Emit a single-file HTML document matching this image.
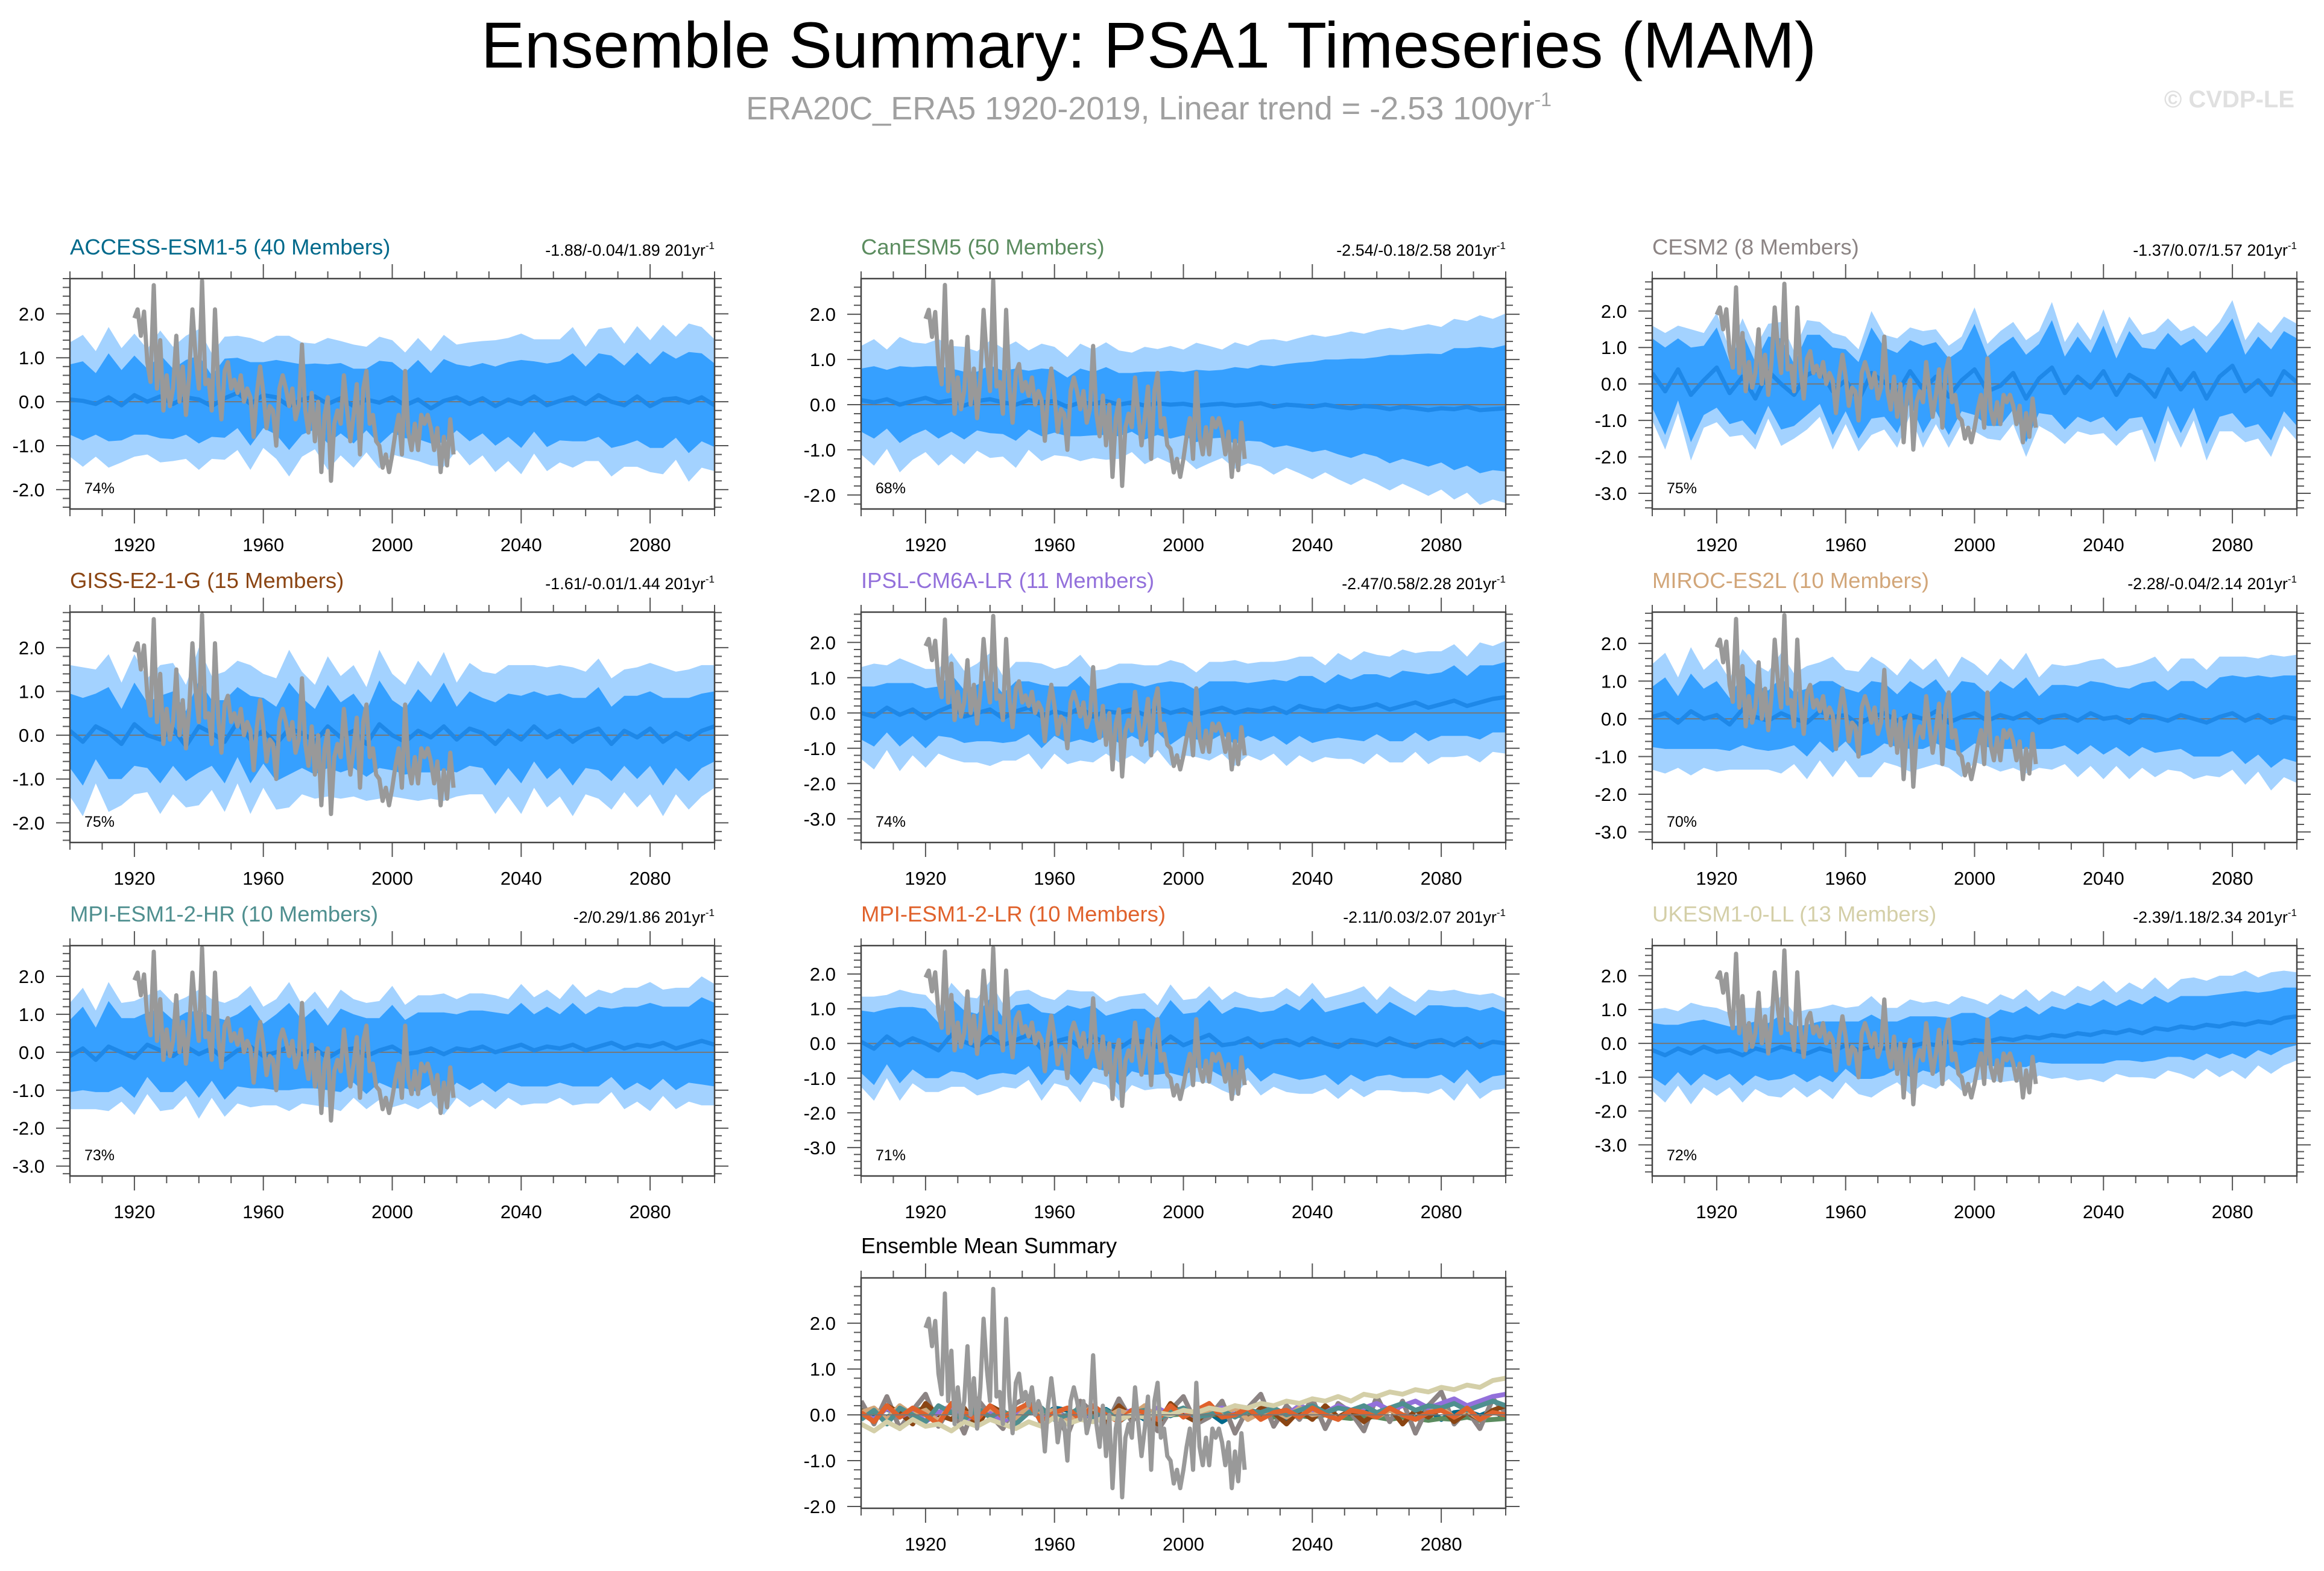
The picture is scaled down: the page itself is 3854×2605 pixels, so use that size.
<!DOCTYPE html>
<html><head><meta charset="utf-8"><style>
html,body{margin:0;padding:0;background:#fff;}
svg{display:block;font-family:"Liberation Sans",Arial,sans-serif;}
</style></head><body>
<svg id="chart" width="3854" height="2605" viewBox="0 0 3854 2605" xmlns="http://www.w3.org/2000/svg">
<rect x="0" y="0" width="3854" height="2605" fill="#fff"/>
<text x="1905" y="112" font-size="108" text-anchor="middle" fill="#000">Ensemble Summary: PSA1 Timeseries (MAM)</text>
<text x="1905" y="198" font-size="54" text-anchor="middle" fill="#a0a0a0">ERA20C_ERA5 1920-2019, Linear trend = -2.53 100yr<tspan font-size="32" dy="-22">-1</tspan></text>
<text x="3805" y="178" font-size="40" font-weight="bold" text-anchor="end" fill="#e0e0e0">© CVDP-LE</text>
<g id="panels"></g>
</svg>
<script>
const obsStart = 1920;
const obsValues = [
1.90,2.10,1.50,2.05,0.90,0.45,2.65,0.30,1.40,-0.20,
0.60,-0.10,0.30,1.50,0.00,0.80,-0.30,0.60,2.10,1.00,
0.30,2.75,0.40,0.50,-0.20,2.10,0.40,-0.40,0.70,0.90,
0.30,0.50,0.20,0.60,0.00,0.30,0.10,-0.80,0.20,0.80,
0.20,-0.60,-0.10,-0.20,-1.00,0.30,0.60,0.30,-0.10,0.30,
-0.40,-0.10,1.30,-0.20,-0.70,0.20,-0.90,0.00,-1.60,-0.30,
0.10,-1.80,-0.50,-0.20,-0.50,0.60,-0.20,-0.90,-0.30,0.40,
-1.20,0.30,0.70,-0.50,-0.30,-0.90,-1.00,-1.50,-1.20,-1.60,
-1.20,-0.70,-0.30,-1.20,0.70,-0.70,-1.10,-0.50,-1.10,-0.30,
-0.50,-0.30,-0.60,-1.10,-0.60,-1.60,-0.80,-1.45,-0.40,-1.20];
const modelStart = 1900;
const modelStep = 4;
const modelNames = ["ACCESS-ESM1-5 (40 Members)","CanESM5 (50 Members)","CESM2 (8 Members)","GISS-E2-1-G (15 Members)","IPSL-CM6A-LR (11 Members)","MIROC-ES2L (10 Members)","MPI-ESM1-2-HR (10 Members)","MPI-ESM1-2-LR (10 Members)","UKESM1-0-LL (13 Members)"];
const trendLabels = ["-1.88/-0.04/1.89","-2.54/-0.18/2.58","-1.37/0.07/1.57","-1.61/-0.01/1.44","-2.47/0.58/2.28","-2.28/-0.04/2.14","-2/0.29/1.86","-2.11/0.03/2.07","-2.39/1.18/2.34"];
const pctLabels = ["74%","68%","75%","75%","74%","70%","73%","71%","72%"];
const yMinVals = [-2.44,-2.31,-3.43,-2.45,-3.67,-3.28,-3.26,-3.82,-3.92];
const yMaxVals = [2.80,2.79,2.89,2.81,2.86,2.83,2.81,2.82,2.89];
const summaryYMin = -2.04, summaryYMax = 2.99;
const yTickLabels = ["-3.0","-2.0","-1.0","0.0","1.0","2.0"];
const yTickValues = [-3,-2,-1,0,1,2];
const xTickLabels = ["1920","1960","2000","2040","2080"];
const xTickYears = [1920,1960,2000,2040,2080];

const meanACCESS=[0.05,0.02,-0.05,0.10,-0.08,0.15,0.00,0.12,-0.05,0.10,0.05,-0.10,0.08,0.20,-0.05,0.15,0.10,-0.10,0.05,0.12,-0.05,0.08,-0.10,0.05,-0.02,0.10,-0.08,0.05,-0.15,0.02,0.10,-0.05,0.08,-0.10,0.05,-0.05,0.12,-0.08,0.02,0.10,-0.05,0.15,0.00,-0.08,0.12,-0.10,0.05,0.08,-0.02,0.10,-0.08];
const outerACCESS=[1.3,1.5,1.2,1.6,1.3,1.4,1.2,1.5,1.3,1.4,1.6,1.2,1.4,1.3,1.5,1.2,1.4,1.6,1.3,1.2,1.5,1.3,1.4,1.2,1.5,1.3,1.2,1.4,1.3,1.5,1.2,1.4,1.3,1.5,1.4,1.6,1.3,1.5,1.4,1.6,1.3,1.5,1.7,1.4,1.6,1.5,1.7,1.4,1.8,1.6,1.5];
const innerACCESS=[0.80,0.90,0.70,1.00,0.80,0.90,0.75,0.95,0.80,0.85,1.00,0.70,0.90,0.80,0.95,0.75,0.85,1.00,0.80,0.75,0.90,0.80,0.85,0.70,0.95,0.80,0.75,0.90,0.80,0.95,0.75,0.85,0.80,0.90,0.85,1.00,0.80,0.95,0.90,1.00,0.85,0.95,1.05,0.90,1.00,0.95,1.10,0.90,1.15,1.00,0.95];
const meanCanESM5=[0.10,0.05,0.12,0.00,0.08,0.15,0.05,0.10,-0.02,0.08,0.12,0.05,0.00,0.10,0.05,0.08,-0.05,0.05,0.02,0.08,0.00,0.05,-0.02,0.03,0.00,0.02,-0.03,0.00,0.02,-0.02,0.00,0.03,-0.05,0.00,-0.02,-0.05,0.00,-0.05,-0.08,-0.03,-0.05,-0.10,-0.05,-0.08,-0.12,-0.08,-0.10,-0.05,-0.12,-0.10,-0.08];
const outerCanESM5=[1.2,1.4,1.1,1.5,1.3,1.2,1.4,1.2,1.3,1.1,1.3,1.2,1.4,1.1,1.3,1.2,1.1,1.3,1.2,1.3,1.2,1.1,1.3,1.2,1.3,1.2,1.4,1.3,1.2,1.4,1.3,1.4,1.5,1.4,1.5,1.6,1.5,1.6,1.7,1.6,1.7,1.8,1.7,1.8,1.9,1.8,2.0,1.9,2.1,2.0,2.1];
const innerCanESM5=[0.70,0.80,0.65,0.85,0.75,0.70,0.80,0.70,0.75,0.65,0.75,0.70,0.80,0.65,0.75,0.70,0.65,0.75,0.70,0.75,0.70,0.65,0.75,0.70,0.75,0.70,0.80,0.75,0.75,0.85,0.80,0.85,0.90,0.90,0.95,1.00,1.00,1.05,1.10,1.05,1.10,1.20,1.15,1.20,1.25,1.20,1.35,1.30,1.40,1.35,1.40];
const meanCESM2=[0.30,-0.20,0.40,-0.30,0.10,0.45,-0.25,0.20,-0.40,0.35,0.00,-0.30,0.25,0.40,-0.20,0.10,-0.45,0.30,0.05,-0.25,0.35,-0.15,0.20,-0.35,0.10,0.40,-0.20,-0.05,0.30,-0.40,0.15,0.45,-0.25,0.20,-0.10,0.35,-0.30,0.25,0.05,-0.35,0.40,-0.15,0.30,-0.40,0.20,0.50,-0.20,0.10,-0.30,0.35,0.05];
const outerCESM2=[1.3,1.6,1.2,1.8,1.3,1.5,1.2,1.6,1.4,1.3,1.7,1.2,1.5,1.3,1.6,1.2,1.4,1.7,1.3,1.5,1.2,1.6,1.3,1.4,1.2,1.7,1.3,1.5,1.4,1.6,1.3,1.8,1.4,1.5,1.3,1.7,1.4,1.6,1.3,1.8,1.4,1.6,1.3,1.7,1.5,1.8,1.4,1.6,1.7,1.5,1.6];
const innerCESM2=[0.95,1.20,0.85,1.30,0.95,1.10,0.85,1.20,1.00,0.95,1.25,0.85,1.10,0.95,1.20,0.85,1.05,1.25,0.95,1.10,0.85,1.20,0.95,1.05,0.85,1.25,0.95,1.10,1.00,1.20,0.95,1.30,1.00,1.10,0.95,1.25,1.00,1.20,0.95,1.30,1.00,1.20,0.95,1.25,1.10,1.30,1.00,1.20,1.25,1.10,1.20];
const meanGISS=[0.10,-0.15,0.20,0.05,-0.20,0.25,0.00,-0.10,0.15,-0.25,0.20,0.05,-0.15,0.30,-0.10,0.10,-0.20,0.15,0.05,-0.15,0.20,-0.05,0.10,-0.20,0.25,0.00,-0.15,0.10,-0.05,0.20,-0.10,0.15,0.05,-0.20,0.10,-0.10,0.20,-0.05,0.10,-0.15,0.05,0.15,-0.20,0.10,-0.05,0.15,-0.15,0.05,-0.10,0.10,0.20];
const outerGISS=[1.5,1.7,1.3,1.8,1.4,1.6,1.3,1.7,1.5,1.4,1.8,1.3,1.6,1.4,1.7,1.3,1.5,1.8,1.4,1.3,1.6,1.4,1.5,1.3,1.7,1.4,1.3,1.6,1.4,1.7,1.3,1.5,1.4,1.6,1.5,1.7,1.4,1.6,1.5,1.7,1.4,1.6,1.5,1.4,1.6,1.5,1.7,1.4,1.6,1.5,1.4];
const innerGISS=[0.85,1.00,0.75,1.05,0.80,0.95,0.75,1.00,0.85,0.80,1.05,0.75,0.95,0.80,1.00,0.75,0.85,1.05,0.80,0.75,0.95,0.80,0.85,0.75,1.00,0.80,0.75,0.95,0.80,1.00,0.75,0.85,0.80,0.95,0.85,1.00,0.80,0.95,0.85,1.00,0.80,0.95,0.85,0.80,0.95,0.85,1.00,0.80,0.95,0.85,0.80];
const meanIPSL=[0.00,-0.10,0.15,-0.05,0.10,-0.15,0.05,0.20,-0.10,0.00,0.10,-0.15,0.05,0.15,-0.10,0.05,-0.05,0.15,-0.10,0.05,0.00,0.10,-0.05,0.15,0.00,0.10,-0.05,0.05,0.15,0.00,0.10,0.05,0.15,0.00,0.20,0.10,0.05,0.20,0.10,0.15,0.25,0.10,0.20,0.30,0.15,0.25,0.35,0.20,0.30,0.40,0.45];
const outerIPSL=[1.3,1.5,1.2,1.6,1.3,1.4,1.2,1.5,1.3,1.4,1.6,1.2,1.4,1.3,1.5,1.2,1.4,1.5,1.3,1.2,1.4,1.3,1.4,1.2,1.5,1.3,1.2,1.4,1.3,1.5,1.3,1.4,1.3,1.5,1.4,1.5,1.3,1.5,1.4,1.6,1.4,1.5,1.6,1.4,1.6,1.5,1.6,1.4,1.7,1.5,1.6];
const innerIPSL=[0.75,0.85,0.70,0.90,0.75,0.85,0.70,0.90,0.75,0.80,0.90,0.70,0.85,0.75,0.90,0.70,0.80,0.90,0.75,0.70,0.85,0.75,0.80,0.70,0.90,0.75,0.70,0.85,0.75,0.90,0.75,0.85,0.80,0.90,0.85,0.95,0.80,0.90,0.85,0.95,0.85,0.90,1.00,0.85,0.95,0.90,1.00,0.85,1.05,0.95,1.00];
const meanMIROC=[0.05,0.15,-0.10,0.20,0.00,0.10,-0.15,0.25,0.05,-0.05,0.15,0.00,-0.10,0.20,0.05,0.10,-0.15,0.05,0.15,-0.05,0.10,0.00,0.20,-0.10,0.05,0.15,-0.05,0.10,0.00,0.15,-0.10,0.05,0.10,-0.05,0.15,0.00,0.05,-0.10,0.10,0.05,-0.05,0.10,0.00,-0.10,0.05,0.15,-0.05,0.10,-0.10,0.05,0.00];
const outerMIROC=[1.4,1.6,1.2,1.7,1.3,1.5,1.2,1.6,1.4,1.3,1.6,1.2,1.5,1.3,1.6,1.2,1.4,1.6,1.3,1.2,1.5,1.3,1.4,1.2,1.6,1.3,1.2,1.5,1.3,1.6,1.2,1.4,1.3,1.5,1.4,1.6,1.3,1.5,1.4,1.6,1.3,1.5,1.6,1.4,1.6,1.5,1.7,1.5,1.8,1.6,1.7];
const innerMIROC=[0.80,0.95,0.70,1.00,0.80,0.90,0.70,0.95,0.85,0.80,0.95,0.70,0.90,0.80,0.95,0.70,0.85,0.95,0.80,0.70,0.90,0.80,0.85,0.70,0.95,0.80,0.70,0.90,0.80,0.95,0.70,0.85,0.80,0.90,0.85,0.95,0.80,0.90,0.85,0.95,0.80,0.90,1.00,0.90,1.05,1.00,1.15,1.05,1.20,1.10,1.15];
const meanMPIHR=[-0.10,0.10,-0.20,0.15,0.00,-0.15,0.20,0.05,-0.10,0.15,-0.05,0.10,-0.20,0.05,0.15,-0.10,0.00,0.15,-0.05,0.10,-0.15,0.05,0.10,-0.10,0.05,0.15,-0.05,0.00,0.10,-0.05,0.10,0.05,0.15,0.00,0.10,0.20,0.05,0.15,0.10,0.20,0.05,0.15,0.25,0.10,0.20,0.15,0.25,0.10,0.20,0.30,0.20];
const outerMPIHR=[1.4,1.6,1.3,1.7,1.3,1.5,1.3,1.6,1.4,1.3,1.7,1.3,1.5,1.4,1.6,1.3,1.4,1.7,1.3,1.5,1.3,1.6,1.3,1.4,1.3,1.6,1.3,1.5,1.4,1.6,1.3,1.5,1.4,1.5,1.3,1.6,1.4,1.5,1.3,1.6,1.4,1.5,1.3,1.6,1.5,1.7,1.4,1.6,1.5,1.7,1.6];
const innerMPIHR=[0.95,1.10,0.85,1.20,0.90,1.05,0.85,1.10,0.95,0.90,1.15,0.85,1.05,0.95,1.10,0.85,1.00,1.15,0.90,1.05,0.85,1.10,0.90,1.00,0.85,1.10,0.90,1.05,0.95,1.10,0.90,1.05,0.95,1.05,0.90,1.10,0.95,1.05,0.90,1.10,0.95,1.05,0.90,1.10,1.00,1.15,0.95,1.10,1.00,1.15,1.10];
const meanMPILR=[0.05,-0.15,0.20,-0.05,0.15,0.00,-0.20,0.25,0.05,-0.10,0.20,-0.05,0.10,0.25,-0.15,0.05,0.15,-0.10,0.20,0.00,-0.15,0.10,0.05,-0.10,0.20,-0.05,0.10,0.25,-0.05,0.00,0.15,-0.10,0.05,0.10,-0.05,0.15,0.00,-0.10,0.10,0.05,-0.05,0.15,0.00,-0.10,0.05,0.10,-0.05,0.15,-0.10,0.05,0.00];
const outerMPILR=[1.3,1.5,1.2,1.6,1.3,1.4,1.2,1.5,1.3,1.4,1.6,1.2,1.4,1.3,1.5,1.2,1.4,1.6,1.3,1.2,1.5,1.3,1.4,1.2,1.5,1.3,1.2,1.4,1.3,1.5,1.2,1.4,1.3,1.5,1.4,1.6,1.3,1.5,1.4,1.6,1.3,1.5,1.4,1.3,1.5,1.4,1.6,1.3,1.5,1.4,1.3];
const innerMPILR=[0.90,1.05,0.80,1.10,0.90,1.00,0.80,1.05,0.90,0.95,1.10,0.80,1.00,0.90,1.05,0.80,0.95,1.10,0.90,0.80,1.05,0.90,0.95,0.80,1.05,0.90,0.80,1.00,0.90,1.05,0.85,1.00,0.90,1.05,1.00,1.15,0.90,1.10,1.00,1.15,0.90,1.05,1.00,0.90,1.05,1.00,1.10,0.90,1.05,1.00,0.90];
const meanUKESM=[-0.20,-0.35,-0.15,-0.30,-0.10,-0.25,-0.20,-0.35,-0.15,-0.25,-0.10,-0.20,-0.30,-0.15,-0.25,-0.05,-0.20,-0.10,-0.15,-0.05,-0.10,0.00,-0.05,0.05,0.00,0.10,0.05,0.15,0.10,0.20,0.15,0.25,0.20,0.30,0.25,0.35,0.30,0.40,0.30,0.45,0.40,0.50,0.45,0.55,0.50,0.60,0.55,0.65,0.60,0.75,0.80];
const outerUKESM=[1.2,1.4,1.1,1.5,1.2,1.3,1.1,1.4,1.2,1.3,1.5,1.1,1.3,1.2,1.4,1.1,1.3,1.5,1.2,1.1,1.4,1.2,1.3,1.1,1.4,1.2,1.1,1.3,1.2,1.4,1.1,1.3,1.2,1.4,1.3,1.5,1.2,1.4,1.3,1.5,1.2,1.4,1.5,1.3,1.5,1.4,1.6,1.3,1.5,1.4,1.3];
const innerUKESM=[0.80,0.90,0.70,0.95,0.80,0.85,0.70,0.90,0.80,0.85,0.95,0.70,0.85,0.80,0.90,0.70,0.85,0.95,0.80,0.70,0.90,0.80,0.85,0.70,0.90,0.80,0.70,0.85,0.80,0.90,0.70,0.85,0.80,0.90,0.85,0.95,0.80,0.90,0.85,0.95,0.80,0.90,0.95,0.85,0.95,0.90,1.00,0.85,0.95,0.90,0.85];

const meanSeries=[meanACCESS,meanCanESM5,meanCESM2,meanGISS,meanIPSL,meanMIROC,meanMPIHR,meanMPILR,meanUKESM];
const outerSeries=[outerACCESS,outerCanESM5,outerCESM2,outerGISS,outerIPSL,outerMIROC,outerMPIHR,outerMPILR,outerUKESM];
const innerSeries=[innerACCESS,innerCanESM5,innerCESM2,innerGISS,innerIPSL,innerMIROC,innerMPIHR,innerMPILR,innerUKESM];
const modelColors=["#00698b","#5b8c5f","#8c8484","#8b4513","#9370db","#d2a679","#4f8f8f","#e0622c","#d4cfa8"];

const NS="http://www.w3.org/2000/svg";
const root=document.getElementById('panels');
function mk(parent,tag,attrs){const e=document.createElementNS(NS,tag);for(const k in attrs)e.setAttribute(k,attrs[k]);parent.appendChild(e);return e;}
const PW=1069, PH=382;

function drawAxes(g,L,T,ymin,ymax,idx){
  const X=yr=>L+(yr-1900)/200*PW;
  const Y=v=>T+(ymax-v)/(ymax-ymin)*PH;
  for(let yr=1900;yr<=2100;yr+=10){
    const major=((yr-1920)%40===0);
    const len=major?24:12;
    const t1=mk(g,'line',{x1:X(yr),x2:X(yr),y1:T,y2:T-len,stroke:'#555','stroke-width':2});
    
    
    const t2=mk(g,'line',{x1:X(yr),x2:X(yr),y1:T+PH,y2:T+PH+len,stroke:'#555','stroke-width':2});
    
    
  }
  xTickYears.forEach((yr,i)=>{
    const t=mk(g,'text',{x:X(yr),y:T+PH+70,'font-size':31,'text-anchor':'middle',fill:'#000'});
    t.textContent=xTickLabels[i];
    
    
  });
  for(let k=Math.ceil(ymin*5);k<=Math.floor(ymax*5);k++){
    const v=k/5; const major=(k%5===0); const len=major?23:12;
    const a=mk(g,'line',{x1:L,x2:L-len,y1:Y(v),y2:Y(v),stroke:'#555','stroke-width':2});
    
    
    const b=mk(g,'line',{x1:L+PW,x2:L+PW+len,y1:Y(v),y2:Y(v),stroke:'#555','stroke-width':2});
    
    
  }
  yTickValues.forEach((v,i)=>{
    if(v<ymin||v>ymax) return;
    const t=mk(g,'text',{x:L-42,y:Y(v)+11,'font-size':31,'text-anchor':'end',fill:'#000'});
    t.textContent=yTickLabels[i];
    
    
  });
  return {X,Y};
}

function linePath(vals,start,step,X,Y){
  return vals.map((v,i)=>(i?'L':'M')+X(start+i*step).toFixed(1)+','+Y(v).toFixed(1)).join(' ');
}
function bandPath(mean,w,X,Y){
  let up=mean.map((m,i)=>X(modelStart+i*modelStep).toFixed(1)+','+Y(m+w[i]).toFixed(1));
  let lo=mean.map((m,i)=>X(modelStart+i*modelStep).toFixed(1)+','+Y(m-w[i]).toFixed(1)).reverse();
  return 'M'+up.join(' L')+' L'+lo.join(' L')+' Z';
}

function panelFrame(g,L,T,id){
  const cp=mk(g,'clipPath',{id:'clip'+id});
  mk(cp,'rect',{x:L,y:T,width:PW,height:PH});
  const inner=mk(g,'g',{'clip-path':'url(#clip'+id+')'});
  
  
  return inner;
}

for(let i=0;i<9;i++){
  const col=i%3,row=Math.floor(i/3);
  const L=116+col*1312,T=462+row*553;
  const g=mk(root,'g',{});
  
  
  const ymin=yMinVals[i],ymax=yMaxVals[i];
  const {X,Y}=drawAxes(g,L,T,ymin,ymax,i);
  const pa=panelFrame(g,L,T,i);
  const ob=mk(pa,'path',{d:bandPath(meanSeries[i],outerSeries[i],X,Y),fill:'#a3d2ff'});
  
  
  const ib=mk(pa,'path',{d:bandPath(meanSeries[i],innerSeries[i],X,Y),fill:'#36a0ff'});
  
  
  const z=mk(pa,'line',{x1:L,x2:L+PW,y1:Y(0),y2:Y(0),stroke:'#777','stroke-width':2});
  
  
  const ml=mk(pa,'path',{d:linePath(meanSeries[i],modelStart,modelStep,X,Y),fill:'none',stroke:'#1e88e8','stroke-width':7,'stroke-linejoin':'round'});
  
  
  const ol=mk(pa,'path',{d:linePath(obsValues,obsStart,1,X,Y),fill:'none',stroke:'#999','stroke-width':7,'stroke-linejoin':'round'});
  
  
  const box=mk(g,'rect',{x:L,y:T,width:PW,height:PH,fill:'none',stroke:'#444','stroke-width':2.5});
  
  
  const tt=mk(g,'text',{x:L,y:T-40,'font-size':36.5,fill:modelColors[i]});
  tt.textContent=modelNames[i];
  
  
  const tr=mk(g,'text',{x:L+PW,y:T-38,'font-size':27,'text-anchor':'end',fill:'#000'});
  tr.textContent=trendLabels[i]+' 201yr';
  const sup=mk(tr,'tspan',{'font-size':17,dy:-11});
  sup.textContent='-1';
  
  
  const pc=mk(g,'text',{x:L+24,y:T+PH-26,'font-size':25,fill:'#000'});
  pc.textContent=pctLabels[i];
  
  
}

(function(){
  const L=1428,T=2119;
  const g=mk(root,'g',{});
  
  
  const {X,Y}=drawAxes(g,L,T,summaryYMin,summaryYMax,9);
  const pa=panelFrame(g,L,T,9);
  for(let i=0;i<9;i++){
    const p=mk(pa,'path',{d:linePath(meanSeries[i],modelStart,modelStep,X,Y),fill:'none',stroke:modelColors[i],'stroke-width':8,'stroke-linejoin':'round'});
    
    
  }
  const z=mk(pa,'line',{x1:L,x2:L+PW,y1:Y(0),y2:Y(0),stroke:'#777','stroke-width':2});
  
  
  const ol=mk(pa,'path',{d:linePath(obsValues,obsStart,1,X,Y),fill:'none',stroke:'#999','stroke-width':7,'stroke-linejoin':'round'});
  
  
  const box=mk(g,'rect',{x:L,y:T,width:PW,height:PH,fill:'none',stroke:'#444','stroke-width':2.5});
  
  
  const tt=mk(g,'text',{x:L,y:T-41,'font-size':36,fill:'#000'});
  tt.textContent='Ensemble Mean Summary';
  
  
})();
</script>
</body></html>
